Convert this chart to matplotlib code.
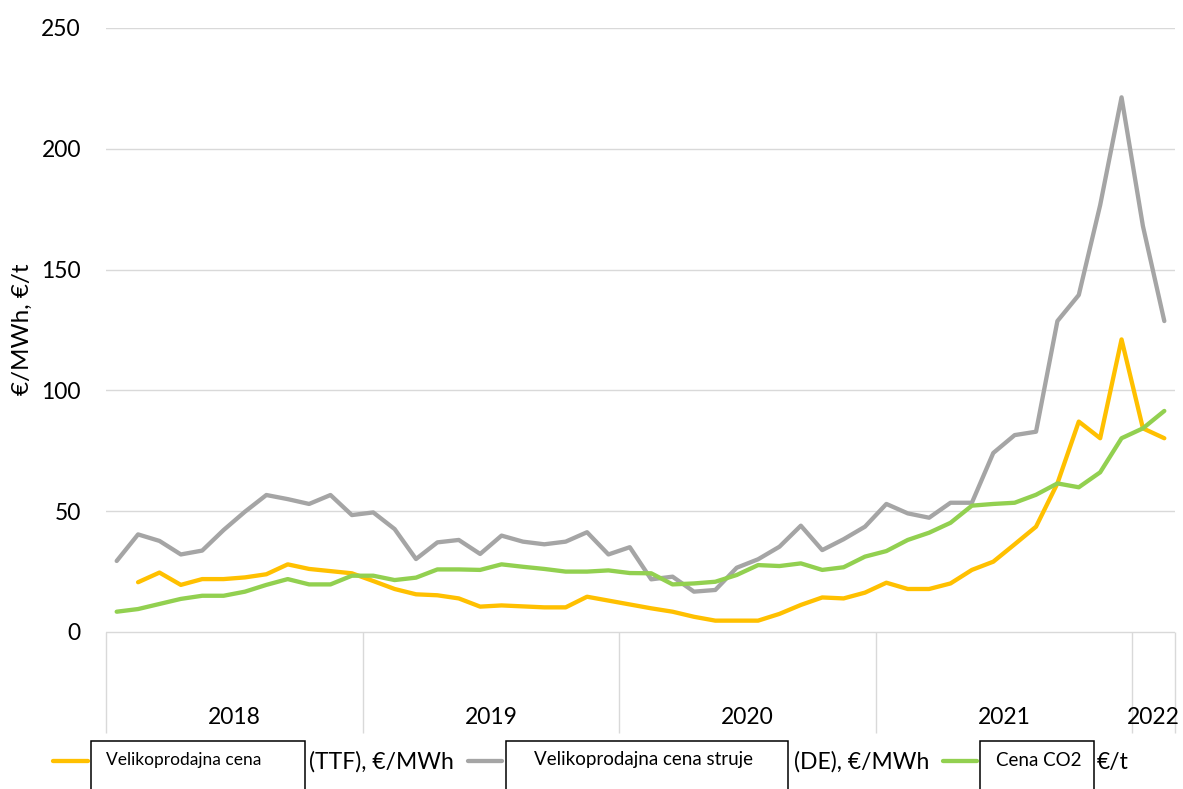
import numpy as np
import matplotlib.pyplot as plt
from matplotlib.lines import Line2D
from matplotlib.patches import Rectangle

plt.rcParams['font.family'] = ['Lato', 'DejaVu Sans']

# monthly values, Jan 2018 - Feb 2022
years = ['2018', '2019', '2020', '2021', '2022']
months_per_year = [12, 12, 12, 12, 2]

ttf = [np.nan, 20.6, 24.6, 19.5, 21.9, 21.9, 22.6, 23.9, 28.0, 26.1, 25.2, 24.3,
       21.1, 17.8, 15.6, 15.2, 13.9, 10.5, 11.0, 10.6, 10.2, 10.2, 14.6, 13.0,
       11.4, 9.8, 8.4, 6.3, 4.7, 4.7, 4.7, 7.5, 11.2, 14.3, 13.9, 16.3,
       20.4, 17.8, 17.8, 20.1, 25.7, 29.1, 36.3, 43.6, 61.5, 87.1, 80.2, 121.1,
       84.3, 80.2]
power_de = [29.4, 40.4, 37.7, 32.1, 33.7, 42.2, 49.8, 56.7, 55.0, 53.0, 56.7, 48.4,
            49.5, 42.6, 30.2, 37.1, 38.1, 32.3, 39.9, 37.4, 36.3, 37.4, 41.3, 32.1,
            35.1, 21.8, 22.9, 16.7, 17.4, 26.6, 30.1, 35.3, 44.0, 33.9, 38.4, 43.6,
            53.0, 49.1, 47.3, 53.5, 53.5, 74.1, 81.5, 82.9, 128.7, 139.5, 176.7, 221.3,
            168.0, 128.7]
co2 = [8.4, 9.5, 11.6, 13.7, 15.0, 15.0, 16.7, 19.5, 21.9, 19.7, 19.7, 23.3,
       23.3, 21.5, 22.5, 25.9, 25.9, 25.7, 28.0, 27.0, 26.1, 25.0, 25.0, 25.5,
       24.4, 24.3, 19.7, 20.1, 20.8, 23.6, 27.7, 27.3, 28.4, 25.7, 26.8, 31.2,
       33.5, 38.1, 41.1, 45.2, 52.3, 53.0, 53.5, 56.8, 61.5, 59.9, 66.1, 80.2,
       84.3, 91.5]

series = [ttf, power_de, co2]
colors = ['#FFC000', '#A5A5A5', '#92D050']
legend_boxed = ['Velikoprodajna cena', 'Velikoprodajna cena struje', 'Cena CO2']
legend_tail = ['(TTF), €/MWh', '(DE), €/MWh', '€/t']

W, H = 1183, 789
fig = plt.figure(figsize=(W / 100, H / 100), dpi=100)
# axes span from top gridline (y=28px) down to the bottom of the year separators
ax = fig.add_axes([106 / W, 1 - 733 / H, (1175 - 106) / W, (733 - 28) / H])

n = sum(months_per_year)
x = np.arange(n) + 0.5
y_bottom = -250 * (733 - 632) / (632 - 28)

for vals, c in zip(series, colors):
    ax.plot(x, vals, color=c, lw=3.1, solid_capstyle='round', solid_joinstyle='round')

ax.set_xlim(0, n)
ax.set_ylim(y_bottom, 250)
yticks = [0, 50, 100, 150, 200, 250]
ax.set_yticks(yticks)
ax.set_yticklabels([str(t) for t in yticks], fontsize=16.5)
ax.tick_params(axis='y', length=0, pad=18)
ax.set_xticks([])
for s in ax.spines.values():
    s.set_visible(False)
for t in yticks:
    ax.axhline(t, color='#D9D9D9', lw=1, zorder=0)

# year separators and labels
edges = np.concatenate([[0], np.cumsum(months_per_year)])
ax.vlines(edges, y_bottom, 0, color='#D9D9D9', lw=1, zorder=0, clip_on=False)
for yr, a, b in zip(years, edges[:-1], edges[1:]):
    ax.text((a + b) / 2, -35.2, yr, ha='center', va='center', fontsize=16.5)

fig.text(22 / W, 1 - 329 / H, '€/MWh, €/t', rotation=90, ha='center', va='center',
         fontsize=17.5)

# legend drawn like the original: marker, framed text box, trailing text
marker_x = [(53, 88), (468, 502), (943, 977)]
box_x = [(91, 305), (506, 788), (980, 1094)]
box_text_x = [106, 534, 996]
box_text_size = [12.5, 13.5, 13.5]
tail_x = [309, 794, 1097]
leg_y = 761
for i in range(3):
    fig.add_artist(Line2D([marker_x[i][0] / W, marker_x[i][1] / W], [1 - leg_y / H] * 2,
                          transform=fig.transFigure, color=colors[i], lw=3.1,
                          solid_capstyle='round'))
    fig.add_artist(Rectangle((box_x[i][0] / W, 1 - 800 / H),
                             (box_x[i][1] - box_x[i][0]) / W, (800 - 741) / H,
                             transform=fig.transFigure, fill=False, ec='black', lw=1.1))
    fig.text(box_text_x[i] / W, 1 - 760 / H, legend_boxed[i], ha='left', va='center',
             fontsize=box_text_size[i])
    fig.text(tail_x[i] / W, 1 - 762 / H, legend_tail[i], ha='left', va='center',
             fontsize=16.5)

fig.savefig('out.png', dpi=100)
